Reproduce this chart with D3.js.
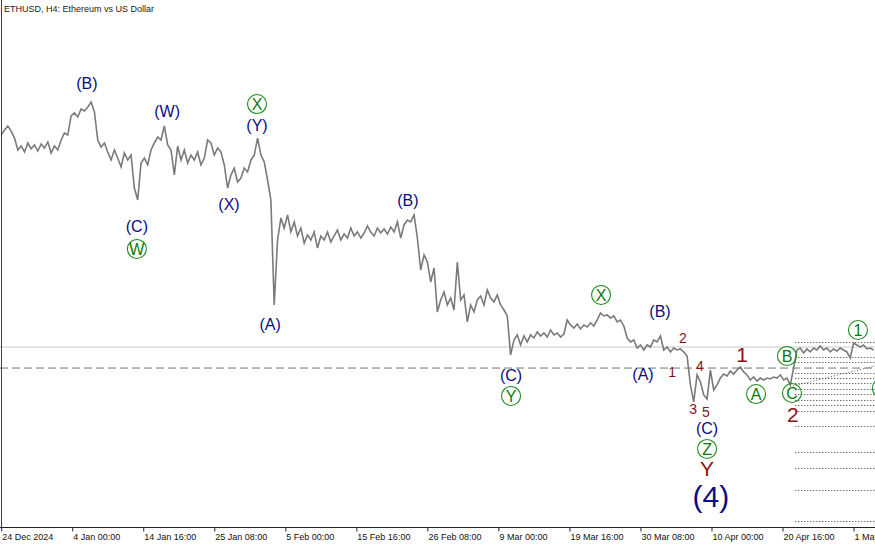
<!DOCTYPE html>
<html>
<head>
<meta charset="utf-8">
<script src="https://cdn.jsdelivr.net/npm/d3@7/dist/d3.min.js"></script>
<style>
  html, body { margin: 0; padding: 0; background: #ffffff; }
  svg { display: block; }
</style>
</head>
<body>
<svg id="chart" width="875" height="545"></svg>
<script>
// ---------- DATA ----------
const seriesStart = "2024-12-24T08:00:00Z";
const stepHours = 12;
// ETHUSD closes, one per 12h
const prices = [
  3460,3499,3530,3491,3437,3345,3376,3330,3399,3353,3384,3337,3391,3360,3407,3322,3376,3345,3422,3476,
  3460,3607,3630,3599,3661,3645,3676,3715,3638,3422,3368,3399,3330,3268,3345,3283,3214,3322,3268,3306,
  3052,2960,3245,3283,3230,3345,3399,3445,3422,3530,3384,3345,3153,3376,3268,3345,3245,3306,3268,3330,
  3230,3283,3422,3399,3306,3360,3330,3230,3052,3153,3206,3099,3129,3206,3176,3268,3306,3437,3306,3253,
  3114,2960,2152,2652,2821,2744,2845,2714,2791,2683,2744,2629,2691,2652,2714,2590,2683,2652,2714,2637,
  2683,2729,2652,2698,2667,2744,2683,2714,2667,2706,2760,2714,2683,2744,2706,2737,2698,2752,2714,2791,
  2667,2768,2806,2791,2845,2667,2421,2537,2483,2329,2436,2098,2190,2252,2152,2205,2113,2483,2190,2229,
  2021,2152,2098,2190,2221,2152,2267,2205,2175,2229,2152,2113,2067,1767,1882,1921,1844,1913,1867,1921,
  1897,1944,1913,1936,1905,1959,1921,1936,1905,1928,2036,1998,1974,2005,1967,1998,1982,2013,1990,2036,
  2090,2067,2075,2051,2067,2021,2036,1990,1897,1867,1882,1820,1844,1805,1844,1828,1882,1867,1913,1805,
  1828,1790,1820,1805,1813,1790,1759,1536,1405,1613,1559,1459,1428,1651,1497,1536,1589,1620,1605,1643,
  1620,1651,1674,1636,1613,1574,1597,1566,1589,1574,1589,1582,1597,1589,1613,1574,1589,1536,1666,1805,
  1820,1782,1813,1790,1820,1805,1836,1805,1820,1790,1813,1797,1820,1805,1790,1743,1859,1844,1828,1844,
  1813,1820,1805
];

const tickDates = [
  "2024-12-24T08:00:00Z","2025-01-04T00:00:00Z","2025-01-14T16:00:00Z","2025-01-25T08:00:00Z",
  "2025-02-05T00:00:00Z","2025-02-15T16:00:00Z","2025-02-26T08:00:00Z","2025-03-09T00:00:00Z",
  "2025-03-19T16:00:00Z","2025-03-30T08:00:00Z","2025-04-10T00:00:00Z","2025-04-20T16:00:00Z",
  "2025-05-01T08:00:00Z"
];
const tickLabels = [
  "24 Dec 2024","4 Jan 00:00","14 Jan 16:00","25 Jan 08:00","5 Feb 00:00","15 Feb 16:00",
  "26 Feb 08:00","9 Mar 00:00","19 Mar 16:00","30 Mar 08:00","10 Apr 00:00","20 Apr 16:00","1 May 08:00"
];

const bidPrice = 1828;        // solid grey line
const dashedLevel = 1666;     // dashed level
const dottedLevels = [1867,1751,1713,1628,1589,1551,1505,1466,1420,1382,1335,1220,1020,896,727,488];
const dottedStart = "2025-04-22T14:00:00Z";
const trendFrom = { t: "2025-04-22T05:30:00Z", p: 1528 };
const trendTo   = { t: "2025-05-04T13:00:00Z", p: 1682 };

// wave labels: kind n = navy parenthesised, r = red, R = big red, c = circled green, B = huge navy
const waveLabels = [
  { t:"2025-01-06T05:00:00Z", p:3861, s:"(B)", k:"n" },
  { t:"2025-01-18T06:00:00Z", p:3645, s:"(W)", k:"n" },
  { t:"2025-01-31T18:00:00Z", p:3699, s:"X",   k:"c" },
  { t:"2025-01-31T18:00:00Z", p:3537, s:"(Y)", k:"n" },
  { t:"2025-01-13T17:00:00Z", p:2760, s:"(C)", k:"n" },
  { t:"2025-01-13T17:00:00Z", p:2583, s:"W",   k:"c" },
  { t:"2025-01-27T13:00:00Z", p:2929, s:"(X)", k:"n" },
  { t:"2025-02-02T17:00:00Z", p:2000, s:"(A)", k:"n" },
  { t:"2025-02-23T10:00:00Z", p:2960, s:"(B)", k:"n" },
  { t:"2025-03-24T10:00:00Z", p:2229, s:"X",   k:"c" },
  { t:"2025-04-02T06:30:00Z", p:2105, s:"(B)", k:"n" },
  { t:"2025-03-10T21:30:00Z", p:1612, s:"(C)", k:"n" },
  { t:"2025-03-10T21:30:00Z", p:1451, s:"Y",   k:"c" },
  { t:"2025-03-30T17:00:00Z", p:1620, s:"(A)", k:"n" },
  { t:"2025-04-04T02:00:00Z", p:1636, s:"1",   k:"r" },
  { t:"2025-04-05T17:00:00Z", p:1897, s:"2",   k:"r" },
  { t:"2025-04-08T06:30:00Z", p:1682, s:"4",   k:"r" },
  { t:"2025-04-07T05:30:00Z", p:1351, s:"3",   k:"r" },
  { t:"2025-04-09T04:00:00Z", p:1328, s:"5",   k:"r" },
  { t:"2025-04-09T08:00:00Z", p:1204, s:"(C)", k:"n" },
  { t:"2025-04-09T08:00:00Z", p:1043, s:"Z",   k:"c" },
  { t:"2025-04-09T08:00:00Z", p:895,  s:"Y",   k:"R" },
  { t:"2025-04-09T22:00:00Z", p:680,  s:"(4)", k:"B" },
  { t:"2025-04-14T14:00:00Z", p:1767, s:"1",   k:"R" },
  { t:"2025-04-16T16:30:00Z", p:1466, s:"A",   k:"c" },
  { t:"2025-04-21T08:00:00Z", p:1759, s:"B",   k:"c" },
  { t:"2025-04-22T02:00:00Z", p:1474, s:"C",   k:"c" },
  { t:"2025-04-22T05:30:00Z", p:1305, s:"2",   k:"R" },
  { t:"2025-05-02T00:00:00Z", p:1959, s:"1",   k:"c" },
  { t:"2025-05-05T14:00:00Z", p:1512, s:"2",   k:"c" }
];

// ---------- CHART ----------
const W = 875, H = 545;
const plotBottom = 527;
const svg = d3.select("#chart");

const t0 = new Date(seriesStart);
const data = prices.map((p, i) => ({ t: d3.utcHour.offset(t0, i * stepHours), p }));

const x = d3.scaleUtc()
  .domain([new Date("2024-12-24T08:00:00Z"), new Date("2025-05-04T16:00:00Z")])
  .range([1.2, 875.75]);
const y = d3.scaleLinear().domain([442.1, 4500]).range([plotBottom, 0]);

svg.append("rect").attr("width", W).attr("height", H).attr("fill", "#ffffff");

// levels
svg.append("line")
  .attr("x1", 0).attr("x2", W).attr("y1", y(bidPrice)).attr("y2", y(bidPrice))
  .attr("stroke", "#c8c8c8").attr("stroke-width", 1);
svg.append("line")
  .attr("x1", 0).attr("x2", W).attr("y1", y(dashedLevel)).attr("y2", y(dashedLevel))
  .attr("stroke", "#6a7d6a").attr("stroke-width", 1).attr("stroke-dasharray", "8,4");

svg.selectAll("line.dot").data(dottedLevels).enter().append("line")
  .attr("class", "dot")
  .attr("x1", x(new Date(dottedStart))).attr("x2", W)
  .attr("y1", d => Math.round(y(d)) + 0.5).attr("y2", d => Math.round(y(d)) + 0.5)
  .attr("stroke", "#333333").attr("stroke-width", 1).attr("stroke-dasharray", "1,2");

svg.append("line")
  .attr("x1", x(new Date(trendFrom.t))).attr("y1", y(trendFrom.p))
  .attr("x2", x(new Date(trendTo.t))).attr("y2", y(trendTo.p))
  .attr("stroke", "#555555").attr("stroke-width", 1).attr("stroke-dasharray", "1,2");

// price line
const line = d3.line().x(d => x(d.t)).y(d => y(d.p));
svg.append("path").datum(data)
  .attr("d", line).attr("fill", "none")
  .attr("stroke", "#7a7a7a").attr("stroke-width", 1.6).attr("stroke-linejoin", "miter");

// frame + axis
svg.append("line").attr("x1", 1.5).attr("x2", 1.5).attr("y1", 0).attr("y2", plotBottom)
  .attr("stroke", "#404040");
const axis = d3.axisBottom(x)
  .tickValues(tickDates.map(d => new Date(d)))
  .tickFormat((d, i) => tickLabels[i])
  .tickSize(4).tickSizeOuter(0);
const gA = svg.append("g").attr("transform", `translate(0,${plotBottom + 0.5})`).call(axis);
gA.select(".domain").attr("stroke", "#222").attr("d", `M0,0H${W}`);
gA.selectAll(".tick line").attr("stroke", "#222");
gA.selectAll(".tick text")
  .attr("text-anchor", "start").attr("dx", 0.5).attr("y", 4).attr("dy", "0.95em")
  .attr("fill", "#111").style("font-family", "'Liberation Sans', Arial, sans-serif").style("font-size", "9px");

// title
svg.append("text").attr("x", 4).attr("y", 12)
  .style("font-family", "'Liberation Sans', Arial, sans-serif").style("font-size", "9px")
  .attr("fill", "#222").text("ETHUSD, H4:  Ethereum vs US Dollar");

// wave labels
const styles = {
  n: { fill: "#0c0c82", size: 16 },
  r: { fill: "#8b1010", size: 14 },
  R: { fill: "#8b1010", size: 21 },
  B: { fill: "#0c0c82", size: 30 },
  c: { fill: "#0a7a0a", size: 16 }
};
const gL = svg.append("g").style("font-family", "'Liberation Sans', Arial, sans-serif");
waveLabels.forEach(l => {
  const cx = x(new Date(l.t)), cy = y(l.p), st = styles[l.k];
  if (l.k === "c") {
    gL.append("circle").attr("cx", cx).attr("cy", cy).attr("r", 9.5)
      .attr("fill", "none").attr("stroke", "#1e8a1e").attr("stroke-width", 1.1);
  }
  gL.append("text").attr("x", cx).attr("y", cy).attr("dy", "0.36em")
    .attr("text-anchor", "middle").attr("fill", st.fill)
    .style("font-size", st.size + "px").text(l.s);
});
</script>
</body>
</html>
